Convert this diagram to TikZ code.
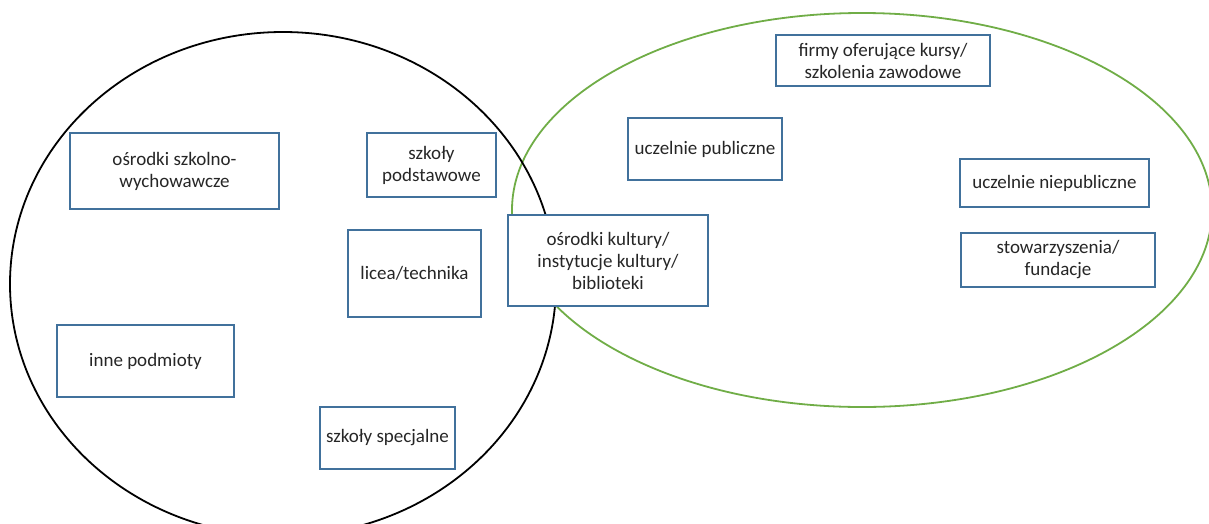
\documentclass[tikz,border=0pt]{standalone}
\usepackage{fontspec}
\setmainfont{Carlito}
\definecolor{boxblue}{HTML}{41719C}
\definecolor{ellgreen}{HTML}{70AD47}
\begin{document}
\begin{tikzpicture}[x=1pt,y=-1pt,
  box/.style={draw=boxblue,line width=2pt,fill=white,align=center,inner sep=2pt,
    font=\fontsize{19}{22}\selectfont,text=black!85},
  ell/.style={line width=1.8pt}]
\useasboundingbox (0,0) rectangle (1209,523);
\clip (0,0) rectangle (1209,523);
\draw[ell,draw=ellgreen] (862,210) ellipse [x radius=350pt,y radius=197pt];
\draw[ell,draw=black] (283,284) ellipse [x radius=273pt,y radius=252pt];
\node[box,minimum width=209pt,minimum height=76pt] (osw) at (174.5,171) {ośrodki szkolno-\\wychowawcze};
\node[box,minimum width=129pt,minimum height=64pt] (szp) at (431.5,165) {szkoły\\podstawowe};
\node[box,minimum width=133pt,minimum height=87pt] (lic) at (414.5,273.5) {licea/technika};
\node[box,minimum width=177pt,minimum height=72pt] (inne) at (145.5,361) {inne podmioty};
\node[box,minimum width=135pt,minimum height=62pt] (spec) at (387.5,438) {szkoły specjalne};
\node[box,minimum width=200pt,minimum height=91pt] (kult) at (608,260.5) {ośrodki kultury/\\instytucje kultury/\\biblioteki};
\node[box,minimum width=214pt,minimum height=51pt] (firmy) at (883,60.5) {firmy oferujące kursy/\\szkolenia zawodowe};
\node[box,minimum width=154pt,minimum height=62pt] (upub) at (705,149) {uczelnie publiczne};
\node[box,minimum width=189pt,minimum height=48pt] (unpub) at (1054.5,183) {uczelnie niepubliczne};
\node[box,minimum width=194pt,minimum height=54pt] (stow) at (1058,260) {stowarzyszenia/\\fundacje};
\end{tikzpicture}
\end{document}
